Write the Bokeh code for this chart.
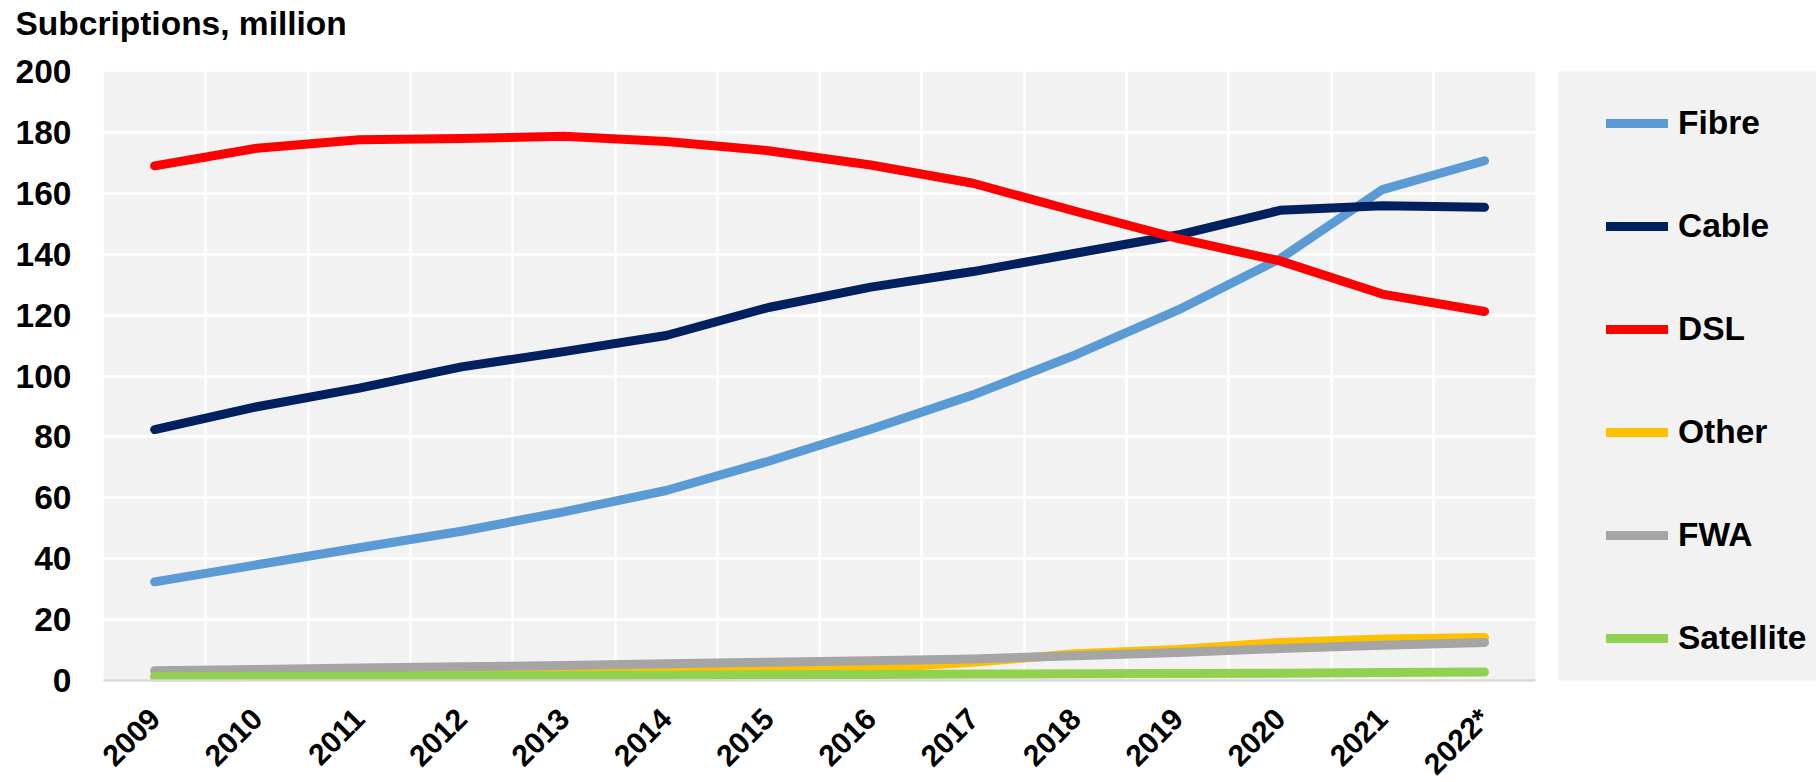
import math
from bokeh.plotting import figure
from bokeh.models import Legend, LegendItem, FixedTicker, BoxAnnotation, Range1d, Label
from bokeh.embed import file_html
from bokeh.resources import INLINE

years = ["2009", "2010", "2011", "2012", "2013", "2014", "2015",
         "2016", "2017", "2018", "2019", "2020", "2021", "2022*"]
fibre = [32.4, 38.0, 43.6, 49.0, 55.4, 62.4, 72.0, 82.5, 93.8, 106.9, 121.6, 138.5, 161.2, 170.7]
cable = [82.4, 89.9, 96.0, 103.0, 108.0, 113.3, 122.5, 129.2, 134.3, 140.3, 146.3, 154.4, 155.9, 155.4]
dsl = [169.0, 174.8, 177.6, 178.0, 178.7, 177.0, 174.0, 169.3, 163.3, 154.1, 145.2, 137.8, 126.9, 121.2]
other = [1.5, 1.7, 2.0, 2.2, 2.5, 2.9, 3.4, 3.9, 6.0, 8.8, 10.2, 12.5, 13.6, 14.1]
fwa = [3.2, 3.6, 4.1, 4.5, 4.9, 5.5, 6.0, 6.5, 7.1, 8.1, 9.2, 10.5, 11.6, 12.5]
satellite = [1.2, 1.3, 1.4, 1.5, 1.6, 1.7, 1.9, 2.0, 2.1, 2.2, 2.3, 2.4, 2.6, 2.8]
y_ticks = [0, 20, 40, 60, 80, 100, 120, 140, 160, 180, 200]

series = [
    ("Fibre", fibre, "#5B9BD5"),
    ("Cable", cable, "#002060"),
    ("DSL", dsl, "#FF0000"),
    ("Other", other, "#FFC000"),
    ("FWA", fwa, "#A5A5A5"),
    ("Satellite", satellite, "#92D050"),
]

FONT = "Liberation Sans"
FS = "33.5px"

# canvas and plot-area geometry (pixels)
W, H = 1816, 780
LEFT, TOP, BOTTOM = 103, 71, 680
CAT = 102.3                      # pixels per category
n = len(years)
YPX = (BOTTOM - TOP) / 200.0     # pixels per million

x0 = -0.5 - LEFT / CAT
x1 = -0.5 + (W - LEFT) / CAT
y0 = -(H - BOTTOM) / YPX
y1 = 200 + TOP / YPX
plot_end = n - 0.5
legend_bg_start = plot_end + (1558 - (LEFT + n * CAT)) / CAT

p = figure(width=W, height=H, output_backend="svg", toolbar_location=None,
           x_range=Range1d(x0, x1), y_range=Range1d(y0, y1),
           min_border_left=0, min_border_right=0, min_border_top=0, min_border_bottom=0,
           background_fill_color="white", border_fill_color="white",
           outline_line_color=None)

# grey plot area (below the grid)
p.add_layout(BoxAnnotation(left=-0.5, right=plot_end, bottom=0, top=200,
                           fill_color="#F2F2F2", fill_alpha=1.0, line_color=None,
                           level="image"))

xs = list(range(n))
items = []
for name, vals, col in series:
    r = p.line(xs, vals, line_color=col, line_width=9, line_cap="round", line_join="round")
    items.append(LegendItem(label=name, renderers=[r]))

# grid
p.xgrid.ticker = FixedTicker(ticks=[i + 0.5 for i in range(n - 1)])
p.ygrid.ticker = FixedTicker(ticks=y_ticks[1:-1])
for g in (p.xgrid, p.ygrid):
    g.grid_line_color = "white"
    g.grid_line_width = 2.5

# hide grid outside the plot area; grey legend panel
for (l, r_, b, t, c) in [(x0 - 1, -0.5, y0 - 1, y1 + 1, "white"),
                         (-0.5, x1 + 1, y0 - 1, 0, "white"),
                         (-0.5, x1 + 1, 200, y1 + 1, "white"),
                         (plot_end, legend_bg_start, 0, 200, "white"),
                         (legend_bg_start, x1 + 1, 0, 200, "#F2F2F2")]:
    p.add_layout(BoxAnnotation(left=l, right=r_, bottom=b, top=t, fill_color=c,
                               fill_alpha=1.0, line_color=None, level="underlay"))

# axes drawn at fixed data positions
p.xaxis.fixed_location = 0
p.xaxis.ticker = FixedTicker(ticks=xs)
p.xaxis.major_label_overrides = {i: y for i, y in enumerate(years)}
p.xaxis.major_label_orientation = math.pi / 4
p.xaxis.bounds = (-0.5, plot_end)
p.xaxis.axis_line_color = "#D9D9D9"
p.xaxis.axis_line_width = 2.5
p.xaxis.major_label_standoff = 33
p.xaxis.major_label_text_font_size = "30px"

p.yaxis.fixed_location = -0.5
p.yaxis.ticker = FixedTicker(ticks=y_ticks)
p.yaxis.bounds = (0, 200)
p.yaxis.axis_line_color = None
p.yaxis.major_label_standoff = 32
p.yaxis.major_label_text_font_size = FS

for ax in (p.xaxis, p.yaxis):
    ax.major_tick_line_color = None
    ax.minor_tick_line_color = None
    ax.major_tick_out = 0
    ax.major_tick_in = 0
    ax.major_label_text_font = FONT
    ax.major_label_text_font_style = "bold"
    ax.major_label_text_color = "black"

legend = Legend(items=items, location=(1606, 120), orientation="vertical",
                background_fill_color="#F2F2F2", background_fill_alpha=1.0,
                border_line_color=None, padding=29, spacing=59,
                label_height=44, glyph_height=44, glyph_width=62, label_standoff=10,
                label_text_font=FONT, label_text_font_style="bold",
                label_text_font_size=FS, label_text_color="black",
                margin=0)
p.add_layout(legend, "center")

p.add_layout(Label(x=15, y=H - 23, x_units="screen", y_units="screen",
                   text="Subcriptions, million", text_font=FONT, text_font_style="bold",
                   text_font_size=FS, text_color="black",
                   text_align="left", text_baseline="alphabetic"))

open("out.html", "w").write(file_html(p, INLINE))
